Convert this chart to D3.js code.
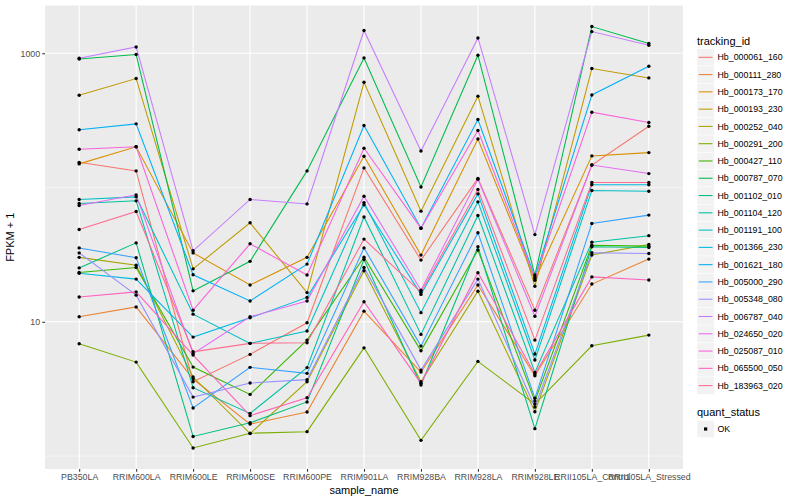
<!DOCTYPE html>
<html><head><meta charset="utf-8">
<script src="https://cdn.jsdelivr.net/npm/d3@7"></script>
<style>body{margin:0;background:#fff}text{font-family:"Liberation Sans",Arial,sans-serif}</style>
</head><body>
<svg id="c" width="800" height="500"></svg>
<script>
const samples = ["PB350LA","RRIM600LA","RRIM600LE","RRIM600SE","RRIM600PE","RRIM901LA","RRIM928BA","RRIM928LA","RRIM928LE","RRII105LA_Control","RRII105LA_Stressed"];
const trackingIds = ["Hb_000061_160","Hb_000111_280","Hb_000173_170","Hb_000193_230","Hb_000252_040","Hb_000291_200","Hb_000427_110","Hb_000787_070","Hb_001102_010","Hb_001104_120","Hb_001191_100","Hb_001366_230","Hb_001621_180","Hb_005000_290","Hb_005348_080","Hb_006787_040","Hb_024650_020","Hb_025087_010","Hb_065500_050","Hb_183963_020"];
const yTicks = [10, 1000];
const yMinor = [1, 100, 10000];

// FPKM + 1 per sample, one array per tracking_id
const Hb_000061_160 = [154,133,3.58,5.72,9.83,140,28.8,117,12.2,147,286];
const Hb_000111_280 = [10.9,12.9,3.75,1.73,2.13,12.0,4.22,18.8,3.96,19.1,29.3];
const Hb_000173_170 = [150,201,32.6,18.8,30.2,171,31.4,230,20.4,172,182];
const Hb_000193_230 = [487,648,24.8,54.6,16.5,608,66.7,479,18.4,769,655];
const Hb_000252_040 = [30.2,26.4,3.88,1.47,3.58,24.0,3.58,16.9,2.14,31.4,37.7];
const Hb_000291_200 = [6.86,5.01,1.15,1.48,1.52,6.40,1.31,5.07,2.44,6.63,7.96];
const Hb_000427_110 = [23.3,25.4,4.60,2.88,7.31,30.3,6.08,34.2,2.57,37.2,36.6];
const Hb_000787_070 = [907,978,17.0,28.2,133,923,101,967,22.3,1580,1181];
const Hb_001102_010 = [25.2,38.7,1.40,1.77,2.53,29.1,3.38,36.2,1.60,36.2,35.8];
const Hb_001104_120 = [76.1,79.6,3.23,2.08,4.56,60.4,8.06,61.9,4.20,39.2,43.8];
const Hb_001191_100 = [81.5,85.2,11.4,6.91,8.53,77.2,11.7,78.2,5.19,95.1,93.9];
const Hb_001366_230 = [23.0,20.8,7.69,10.7,15.2,74.5,16.0,89.7,5.75,105,105];
const Hb_001621_180 = [269,298,22.4,14.3,26.9,290,49.8,321,21.6,489,800];
const Hb_005000_290 = [35.5,30.0,2.28,4.58,4.13,35.5,6.59,46.1,2.70,54.0,62.3];
const Hb_005348_080 = [32.6,15.8,2.75,3.50,3.71,25.4,4.37,20.8,2.32,32.7,32.3];
const Hb_006787_040 = [918,1114,33.8,81.5,75.5,1476,187,1300,44.6,1450,1147];
const Hb_024650_020 = [73.5,88.2,5.78,10.9,14.3,86.2,17.2,115,11.0,147,127];
const Hb_025087_010 = [193,201,12.2,38.1,22.3,196,49.8,266,21.0,364,305];
const Hb_065500_050 = [15.3,16.7,5.65,2.00,2.72,14.1,3.48,23.2,4.08,21.6,20.5];
const Hb_183963_020 = [48.7,66.3,5.98,6.91,6.98,41.3,16.6,96.7,7.31,109,109];

const seriesValues = [Hb_000061_160,Hb_000111_280,Hb_000173_170,Hb_000193_230,Hb_000252_040,Hb_000291_200,Hb_000427_110,Hb_000787_070,Hb_001102_010,Hb_001104_120,Hb_001191_100,Hb_001366_230,Hb_001621_180,Hb_005000_290,Hb_005348_080,Hb_006787_040,Hb_024650_020,Hb_025087_010,Hb_065500_050,Hb_183963_020];
const palette = ["#F8766D","#EA8331","#D89000","#C09B00","#A3A500","#7CAE00","#39B600","#00BB4E","#00BF7D","#00C1A3","#00BFC4","#00BAE0","#00B0F6","#35A2FF","#9590FF","#C77CFF","#E76BF3","#FA62DB","#FF62BC","#FF6C91"];

const series = trackingIds.map((id,i)=>({id, color:palette[i], values: seriesValues[i].map((v,j)=>({s:samples[j], v}))}));

const svg = d3.select("#c");
const P = {l:45, r:683, t:5.5, b:469};

const all = seriesValues.flat();
const lo = Math.log10(d3.min(all)), hi = Math.log10(d3.max(all));
const pad = (hi-lo)*0.05;
const y = d3.scaleLog().domain([Math.pow(10,lo-pad), Math.pow(10,hi+pad)]).range([P.b, P.t]);
const x = d3.scalePoint().domain(samples).range([P.l, P.r]).padding(0.6);

svg.append("rect").attr("width",800).attr("height",500).attr("fill","#fff");
svg.append("rect").attr("x",P.l).attr("y",P.t).attr("width",P.r-P.l).attr("height",P.b-P.t).attr("fill","#EBEBEB");

const g = svg.append("g");
const dom = y.domain();
g.selectAll(".ymin").data(yMinor.filter(d=>d>=dom[0]&&d<=dom[1])).enter().append("line")
 .attr("x1",P.l).attr("x2",P.r).attr("y1",d=>y(d)).attr("y2",d=>y(d)).attr("stroke","#fff").attr("stroke-width",0.55);
g.selectAll(".ymaj").data(yTicks).enter().append("line")
 .attr("x1",P.l).attr("x2",P.r).attr("y1",d=>y(d)).attr("y2",d=>y(d)).attr("stroke","#fff").attr("stroke-width",1.1);
g.selectAll(".xmaj").data(samples).enter().append("line")
 .attr("x1",d=>x(d)).attr("x2",d=>x(d)).attr("y1",P.t).attr("y2",P.b).attr("stroke","#fff").attr("stroke-width",1.1);

// lines
const line = d3.line().x(d=>x(d.s)).y(d=>y(d.v));
svg.append("g").selectAll("path").data(series).enter().append("path")
 .attr("d",d=>line(d.values)).attr("fill","none").attr("stroke",d=>d.color).attr("stroke-width",1.07);
// points
svg.append("g").selectAll("g").data(series).enter().append("g").selectAll("circle")
 .data(d=>d.values).enter().append("circle").attr("cx",d=>x(d.s)).attr("cy",d=>y(d.v)).attr("r",1.7).attr("fill","#000");

// axes
const yAxis = d3.axisLeft(y).tickValues(yTicks).tickFormat(d3.format("d")).tickSize(2.75).tickPadding(2.2);
const ya = svg.append("g").attr("transform",`translate(${P.l},0)`).call(yAxis);
const xAxis = d3.axisBottom(x).tickSize(2.75).tickPadding(2.2);
const xa = svg.append("g").attr("transform",`translate(0,${P.b})`).call(xAxis);
[ya,xa].forEach(a=>{
  a.select(".domain").remove();
  a.selectAll(".tick line").attr("stroke","#333").attr("stroke-width",1.07);
  a.selectAll(".tick text").attr("fill","#4D4D4D").style("font-size","8.8px").style("font-family","Liberation Sans, Arial, sans-serif");
});

svg.append("text").attr("x",(P.l+P.r)/2).attr("y",494).attr("text-anchor","middle").style("font-size","11px").text("sample_name");
svg.append("text").attr("transform",`translate(14,${(P.t+P.b)/2}) rotate(-90)`).attr("text-anchor","middle").style("font-size","11px").text("FPKM + 1");

// legend
const L = svg.append("g");
const lx = 697, ly0 = 57.3, step = 17.28;
L.append("text").attr("x",lx).attr("y",44.5).style("font-size","11px").text("tracking_id");
series.forEach((s,i)=>{
  const cy = ly0 + i*step;
  L.append("rect").attr("x",lx).attr("y",cy-step/2).attr("width",17.28).attr("height",step).attr("fill","#F2F2F2").attr("stroke","#fff").attr("stroke-width",0.5);
  L.append("line").attr("x1",lx+1.7).attr("x2",lx+15.5).attr("y1",cy).attr("y2",cy).attr("stroke",s.color).attr("stroke-width",1.07);
  L.append("text").attr("x",lx+20.5).attr("y",cy+3.1).style("font-size","8.8px").text(s.id);
});
L.append("text").attr("x",lx).attr("y",416).style("font-size","11px").text("quant_status");
L.append("rect").attr("x",lx).attr("y",429-step/2).attr("width",17.28).attr("height",step).attr("fill","#F2F2F2").attr("stroke","#fff").attr("stroke-width",0.5);
L.append("rect").attr("x",lx+8.64-1.6).attr("y",429-1.6).attr("width",3.2).attr("height",3.2).attr("fill","#000");
L.append("text").attr("x",lx+20.5).attr("y",432.1).style("font-size","8.8px").text("OK");
</script>
</body></html>
